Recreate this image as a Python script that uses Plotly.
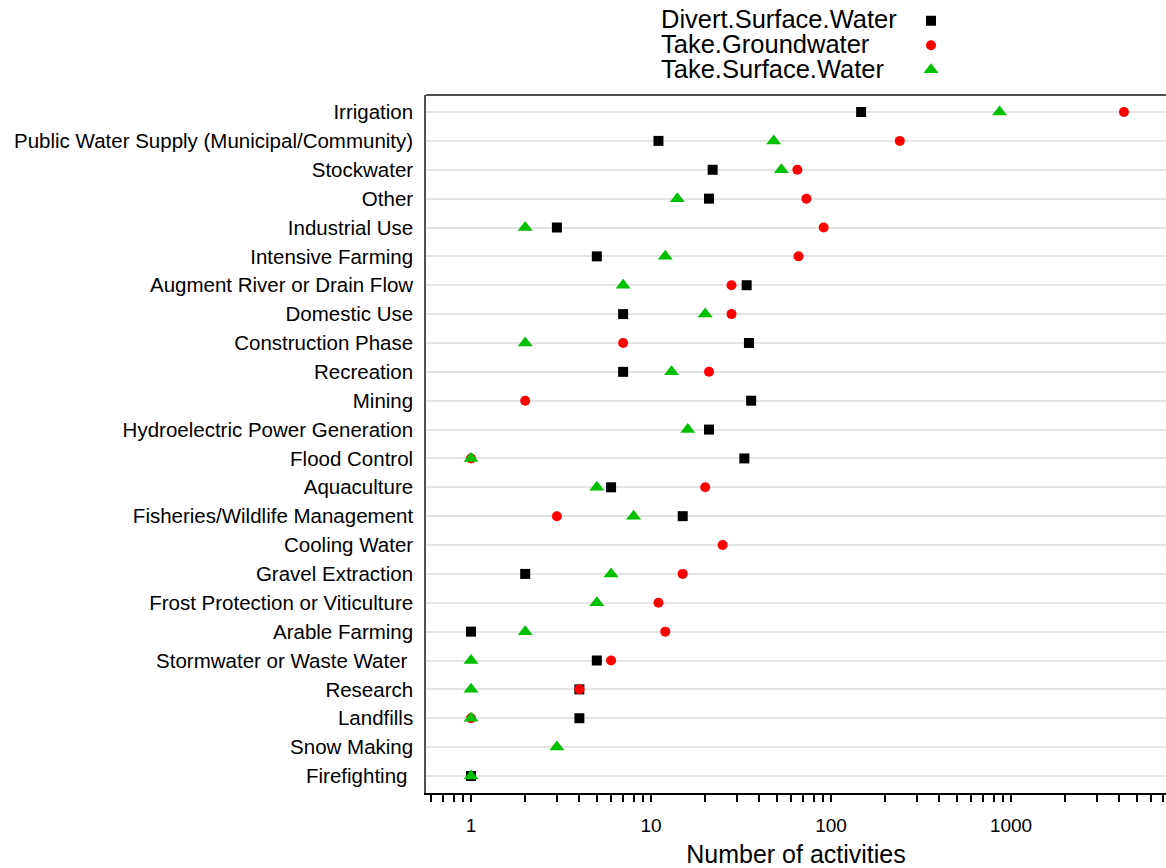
import plotly.graph_objects as go

categories = [
    "Irrigation",
    "Public Water Supply (Municipal/Community)",
    "Stockwater",
    "Other",
    "Industrial Use",
    "Intensive Farming",
    "Augment River or Drain Flow",
    "Domestic Use",
    "Construction Phase",
    "Recreation",
    "Mining",
    "Hydroelectric Power Generation",
    "Flood Control",
    "Aquaculture",
    "Fisheries/Wildlife Management",
    "Cooling Water",
    "Gravel Extraction",
    "Frost Protection or Viticulture",
    "Arable Farming",
    "Stormwater or Waste Water\u00a0",
    "Research",
    "Landfills",
    "Snow Making",
    "Firefighting\u00a0",
]

divert_surface_water = [147, 11, 22, 21, 3, 5, 34, 7, 35, 7, 36, 21, 33, 6, 15, None,
                        2, None, 1, 5, 4, 4, None, 1]
take_groundwater = [4240, 241, 65, 73, 91, 66, 28, 28, 7, 21, 2, None, 1, 20, 3, 25,
                    15, 11, 12, 6, 4, 1, None, None]
take_surface_water = [864, 48, 53, 14, 2, 12, 7, 20, 2, 13, None, 16, 1, 5, 8, None,
                      6, 5, 2, 1, 1, 1, 3, 1]

series_names = ["Divert.Surface.Water", "Take.Groundwater", "Take.Surface.Water"]
series_values = [divert_surface_water, take_groundwater, take_surface_water]
series_colors = ["#000000", "#ff0000", "#00c000"]
series_symbols = ["square", "circle", "triangle-up"]
series_sizes = [10, 10, 13]

tick_values = [1, 10, 100, 1000]
tick_labels = ["1", "10", "100", "1000"]

FONT = "Liberation Sans, Arial, sans-serif"

fig = go.Figure()
for name, vals, col, sym, sz in zip(series_names, series_values, series_colors,
                                    series_symbols, series_sizes):
    fig.add_trace(go.Scatter(
        x=vals, y=categories, mode="markers", name=name, showlegend=False,
        marker=dict(symbol=sym, color=col, size=sz, line=dict(width=0)),
        hovertemplate=name + ": %{x}<extra>%{y}</extra>",
    ))

# legend keys (symbols only; text is drawn as annotations to the left)
for name, col, sym, sz in zip(series_names, series_colors, series_symbols, series_sizes):
    fig.add_trace(go.Scatter(
        x=[None], y=[None], mode="markers", name="", legendgroup=name,
        marker=dict(symbol=sym, color=col, size=sz, line=dict(width=0)),
        showlegend=True, hoverinfo="skip",
    ))

minor_ticks = [m * 10 ** e for e in range(-1, 4) for m in range(2, 10)]

L, R, T, B = 426, 0, 95, 75
W, H = 1166, 868
plot_h = H - T - B

annotations = []
legend_rows_px = [19, 44, 69]
for name, ypx in zip(series_names, legend_rows_px):
    annotations.append(dict(
        text=name, xref="paper", yref="paper",
        x=(659 - L) / (W - L - R), y=(H - B - ypx) / plot_h,
        xanchor="left", yanchor="middle", showarrow=False,
        height=24, valign="middle",
        font=dict(family=FONT, size=25.5, color="#000000"),
    ))

fig.update_layout(
    width=W, height=H,
    margin=dict(l=L, r=R, t=T, b=B, pad=0, autoexpand=False),
    paper_bgcolor="#ffffff", plot_bgcolor="#ffffff",
    font=dict(family=FONT, color="#000000"),
    showlegend=True,
    legend=dict(
        xref="container", yref="container",
        x=(931 - 20) / W, y=1 - 3.5 / H, xanchor="left", yanchor="top",
        font=dict(family=FONT, size=16.5), bgcolor="rgba(0,0,0,0)",
        borderwidth=0, traceorder="normal", itemwidth=30,
    ),
    annotations=annotations,
    shapes=[dict(type="line", xref="paper", yref="paper", x0=0, x1=1, y0=1, y1=1,
                 line=dict(color="#505050", width=2), layer="above")],
    xaxis=dict(
        type="log", range=[-0.25, 3.861],
        tickmode="array", tickvals=tick_values, ticktext=tick_labels,
        ticks="outside", ticklen=7, tickwidth=1.5, tickcolor="#000000",
        minor=dict(tickmode="array", tickvals=minor_ticks, ticks="outside",
                   ticklen=7, tickwidth=1.5, tickcolor="#000000", showgrid=False),
        showgrid=False, zeroline=False,
        showline=True, linecolor="#000000", linewidth=2,
        ticklabelstandoff=7,
        tickfont=dict(family=FONT, size=19, color="#000000"),
        title=dict(text="Number of activities", standoff=19,
                   font=dict(family=FONT, size=25, color="#000000")),
    ),
    yaxis=dict(
        type="category", categoryorder="array", categoryarray=categories,
        range=[23.59, -0.59],
        showgrid=True, gridcolor="#e4e4e4", gridwidth=1.5,
        ticks="", ticklabelstandoff=7,
        showline=True, linecolor="#505050", linewidth=1.5,
        zeroline=False,
        tickfont=dict(family=FONT, size=20.5, color="#000000"),
    ),
)

fig.write_html("out.html")
